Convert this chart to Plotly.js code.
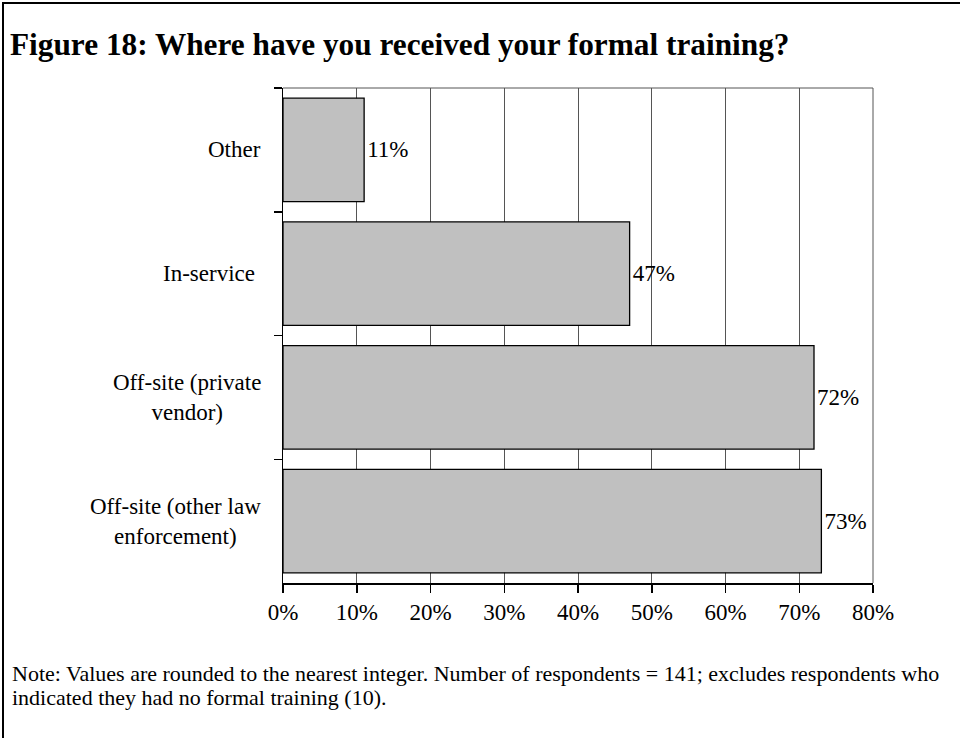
<!DOCTYPE html>
<html>
<head>
<meta charset="utf-8">
<script src="https://cdn.plot.ly/plotly-3.0.1.min.js"></script>
<style>
html,body{margin:0;padding:0;background:#fff;}
#wrap{position:relative;width:960px;height:738px;}
#chart{width:960px;height:738px;}
#frame{position:absolute;left:2px;top:2px;right:0;bottom:0;border-left:2px solid #000;border-top:2px solid #000;pointer-events:none;}
</style>
</head>
<body>
<div id="wrap"><div id="chart"></div><div id="frame"></div></div>
<script>
// Data (top to bottom as shown)
const categories = ['Other', 'In-service\u00a0', 'Off-site (private<br>vendor)', 'Off-site (other law<br>enforcement)'];
const values = [11, 47, 72, 73];
const xTickVals = [0, 10, 20, 30, 40, 50, 60, 70, 80];
const xTickText = ['0%', '10%', '20%', '30%', '40%', '50%', '60%', '70%', '80%'];
const titleText = '<b>Figure 18: Where have you received your formal training?</b>';
const noteLines = [
  'Note: Values are rounded to the nearest integer. Number of respondents = 141; excludes respondents who',
  'indicated they had no formal training (10).'
];

const serif = '"Liberation Serif", "Times New Roman", serif';

const trace = {
  type: 'bar',
  orientation: 'h',
  y: categories,
  x: values,
  marker: {color: '#c0c0c0', line: {color: '#000', width: 1.3}},
  text: values.map(v => v + '%'),
  textposition: 'outside',
  textfont: {family: serif, size: 23, color: '#000'},
  cliponaxis: false,
  hoverinfo: 'none'
};

const labelAnnotations = categories.map(c => ({
  xref: 'paper', yref: 'y', x: 0, y: c,
  xanchor: 'right', yanchor: 'middle', xshift: -20,
  text: c, align: 'center', showarrow: false,
  font: {family: serif, size: 23, color: '#000'}
}));

const noteY = [673, 697];
const noteAnnotations = noteLines.map((t, i) => ({
  xref: 'paper', yref: 'paper',
  x: (10 - 283)/590, y: (583 - noteY[i])/495,
  xanchor: 'left', yanchor: 'middle', align: 'left',
  text: t, showarrow: false,
  font: {family: serif, size: 22, color: '#000'}
}));

const layout = {
  width: 960, height: 738,
  margin: {l: 283, r: 87, t: 88, b: 155},
  paper_bgcolor: '#fff', plot_bgcolor: '#fff',
  showlegend: false,
  bargap: 0.165,
  title: {
    text: titleText,
    xref: 'container', yref: 'container',
    x: 10/960, xanchor: 'left',
    y: 1 - 44/738, yanchor: 'middle',
    font: {family: serif, size: 31.3, color: '#000'}
  },
  xaxis: {
    range: [0, 80],
    tickvals: xTickVals, ticktext: xTickText,
    showgrid: true, gridcolor: '#555', gridwidth: 1,
    showline: true, linecolor: '#000', linewidth: 1.5,
    ticks: 'outside', ticklen: 8, tickcolor: '#000', tickwidth: 1.5,
    tickfont: {family: serif, size: 23, color: '#000'},
    zeroline: false, fixedrange: true
  },
  yaxis: {
    type: 'category',
    autorange: 'reversed',
    showticklabels: false,
    showline: true, linecolor: '#000', linewidth: 1.5,
    ticks: 'outside', ticklen: 8, tickcolor: '#000', tickwidth: 1.5,
    tickson: 'boundaries',
    showgrid: false, zeroline: false, fixedrange: true
  },
  shapes: [
    {type: 'line', xref: 'paper', yref: 'paper', x0: 0, x1: 1, y0: 1, y1: 1, line: {color: '#555', width: 1}},
    {type: 'line', xref: 'paper', yref: 'paper', x0: 1, x1: 1, y0: 0, y1: 1, line: {color: '#555', width: 1}}
  ],
  annotations: labelAnnotations.concat(noteAnnotations)
};

Plotly.newPlot('chart', [trace], layout, {displayModeBar: false, staticPlot: true});
</script>
</body>
</html>
